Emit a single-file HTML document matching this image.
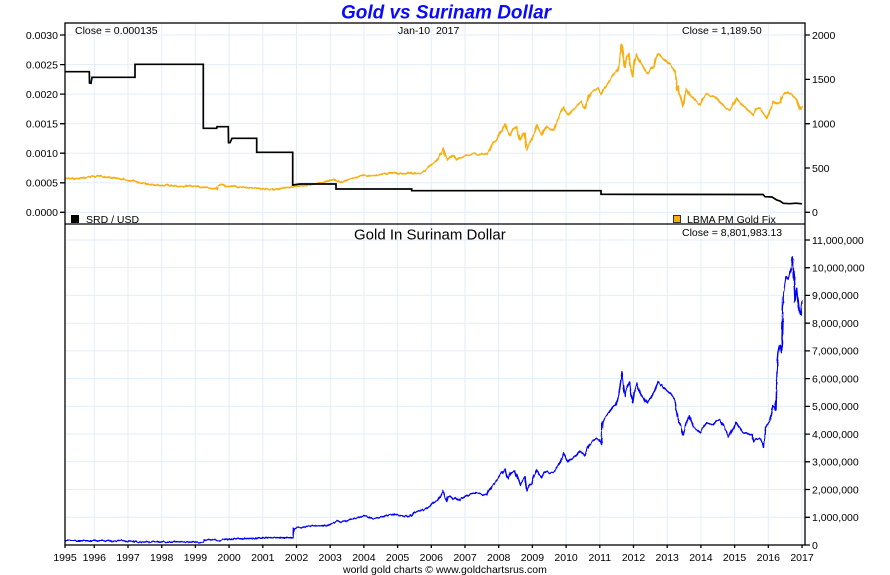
<!DOCTYPE html>
<html><head><meta charset="utf-8"><style>
html,body{margin:0;padding:0;background:#fff;}
svg{display:block;font-family:"Liberation Sans",Arial,sans-serif;}
</style></head><body>
<svg width="890" height="575" viewBox="0 0 890 575" xmlns="http://www.w3.org/2000/svg">
<defs>
<filter id="jit" filterUnits="userSpaceOnUse" x="0" y="0" width="890" height="575">
<feTurbulence type="fractalNoise" baseFrequency="0.35 0.08" numOctaves="2" seed="3" result="n"/>
<feDisplacementMap in="SourceGraphic" in2="n" scale="3" xChannelSelector="R" yChannelSelector="G"/>
</filter>
</defs>
<rect width="890" height="575" fill="#fff"/>
<!-- grid -->
<g stroke="#e2eef8" stroke-width="1">
<path d="M94.3 23V545M128 23V545M161.7 23V545M195.4 23V545M229.1 23V545M262.8 23V545M296.5 23V545M330.2 23V545M363.9 23V545M397.6 23V545M431.3 23V545M465 23V545M498.7 23V545M532.4 23V545M566.1 23V545M599.8 23V545M633.5 23V545M667.2 23V545M700.9 23V545M734.6 23V545M768.3 23V545M802 23V545"/>
<path d="M65 35H805M65 64.6H805M65 94.1H805M65 123.7H805M65 153.2H805M65 182.8H805M65 212.3H805"/>
<path d="M65 517.3H805M65 489.5H805M65 461.8H805M65 434.1H805M65 406.4H805M65 378.6H805M65 350.9H805M65 323.2H805M65 295.4H805M65 267.7H805M65 240H805"/>
</g>
<!-- gold USD -->
<polyline filter="url(#jit)" fill="none" stroke="#f8ae10" stroke-width="1.7" stroke-linejoin="round" points="65,178.5 70,178 75,178.8 80,178 85,177.5 90,177 95,176.5 98,175.7 102,176.5 108,177 115,178 122,179 127,180 133,181 140,182.5 147,184 153,185 160,185.7 167,185 173,186 180,186.5 187,186 193,186 200,187 206,187.5 212,188.5 216.7,189 218,186 221.7,184 225,186 229,186.5 233,186 238,187 245,187.5 252,188 260,188.3 266,189 273,189.3 280,188.5 287,187.5 293,186.7 300,186 306,185.5 313,184 318,183 323,182.5 328,181 333,179.3 337,181 341.7,182.7 346,180.5 350,179.3 355,178 360,176 363,175 368,176 373,176 378,175 383,174 388,173.5 393,172.7 398,173.5 403,174 408,173 414,173.5 420,173.3 424,171 428,167.5 433,163.3 437,160.5 440,155 443.3,148.3 445,154 447,160 450,157 453,155 456,160 459,158 463,156.7 468,155 473,153.3 478,154.5 482,153.5 487,154.3 490,150 493,143.3 497,139 500,133.3 503,129 505,124 507,130 510,135 513,129 516.7,126.7 518,133 520,140 522,136 525,133.3 526.7,150 529,145 531.7,140 534,133 536.7,125 539,130 541.7,135 544,130 546.7,126.7 550,129 553.3,130 556,124 558.3,118.3 561,112 563.3,106.7 566,112 568.3,115 571,112 573.3,110 577,106 581.7,101.7 583,106 585,108.3 588,98 591.7,91.7 595,90 598.3,88.3 600,93 601.7,95 604,90 606.7,85 610,80 613.3,75 616,72 618.3,68.3 620,58 621.7,45 623,55 625,66.7 626.5,58 628.3,53.3 630,65 632.7,76.7 634,62 636.7,55 639,60 641.7,65 645,70 648.3,73.3 651,69 653.3,66.7 656,58 658.3,53.3 662,58 666.7,61.7 670,64 673,68 675,71.7 676.7,90 678,86 680,96 683.3,106.7 685,95 686.7,88.3 689,94 691.7,96.7 695,100 698,103 700,105 703,98 706.7,93.3 710,96 713,95 716.7,98.3 720,102 723.3,105 726,108 730,110 733,104 736.7,98.3 740,103 743.3,106.7 746,108 750,112 753.3,115 756,110 760,108.3 763,113 766.7,118.3 769,113 771,106 773.3,101.7 776,104 780,101.7 783,96 786.7,91.7 789,94 791.7,93.3 794,96 796.7,100 798,105 800,110 801,108 802.5,107"/>
<!-- SRD/USD -->
<polyline fill="none" stroke="#000" stroke-width="1.7" points="65,71.7 89.3,71.7 89.5,83 91,83.3 92,77.3 135,77.3 135,64.3 203.3,64.3 203.3,128.3 216.7,128.3 217,126.7 228.3,126.7 228.5,142.7 230,142.7 232,138.3 256.7,138.3 256.7,152.3 292.7,152.3 292.7,185 300,184 336,184 336,189 411.7,189 411.7,190.7 601,190.7 601,194.3 763,194.5 765,196.7 772,197 776.7,200 780,201 783.3,203.3 790,203.7 796,203.2 802,203.8"/>
<!-- Gold in SRD -->
<polyline filter="url(#jit)" fill="none" stroke="#0000ff" stroke-width="1.5" stroke-linejoin="round" points="65,540.7 100,540.8 133,541 136.7,542 170,542.2 203,542 204,539.7 215,540 220,540.3 224,539.5 226.7,539 240,538.8 256.7,538.3 258.3,537.7 275,537.6 293,537.7 293.5,528.3 300,527.5 310,526 320,525.8 328.3,525.3 333,523 336.7,521 340,522 343.3,521.7 347,521 350,520 356,518.5 363.3,516 367,517 371,518.5 376.7,518.3 382,517 388,515.5 395,514 400,515.5 405,516 410,516 413.3,512.7 416.7,511.7 420,511 424,509.5 426.7,508.3 430,506 433.3,502.7 437,501 440,497 443.3,490.7 445,497 446.7,501.7 448,497 450,496 453,499 455,497.5 458.3,500.7 462,498 466.7,496 470,494 475,492.7 480,494 486.7,495 490,490 493.3,484 496,481 500,475 503,472 505,469.3 506.5,475 508.3,478.3 511,473 515,470.7 517,477 520,485 522,480 525,476.7 526.7,490.7 529,486 531.7,483.3 534,476 536.7,470 539,474 541.7,477.3 544,473 546.7,471.7 550,473 553.3,472.3 556,469 558.3,466 561,460 563.3,453.3 566,458 568.3,461.7 571,459 573.3,458.3 577,454 580,450.7 583,453 585,456 588,447 591.7,441.7 594,440 596.7,438.3 599,440 601,444 602.3,422.7 604,419 606.7,415 610,411 613.3,406.7 616.7,405 619.3,391.7 622,371.7 623.5,385 625,396.7 627,388 629.3,381.7 631,393 632.7,403.3 634.5,390 636.7,383.3 639,390 641.7,395 644,398 646.7,403.3 649,400 651.7,396.7 655,390 658.3,381.7 662,386 666.7,390 670,393 673,397 675,400 677.3,416.7 680,424 683.3,435 686,423 688.7,416 691,422 693.3,426.7 697,430 700,433.3 703,428 706.7,422.7 710,424 713.3,425 716,421 720,420 724,427 728.3,437.3 732,430 736,422.7 740,428 743.3,432.7 748,434 751.7,435 753.3,441.7 756,439 760,438.3 762,442 764,447.3 765,428.3 767,425 770,421.7 772,412 773.3,405 775,407 776,410 777.3,363.3 778.5,352 780,345 781.7,353.3 782.5,320 783.3,293.3 785,282 786,276.7 788.3,280 790,273.3 791.5,265 792.7,256.7 794,280 795,301.7 796.7,288.3 798.3,306.7 800.7,315 801.5,305 802.3,300"/>
<!-- frames -->
<g stroke="#000" stroke-width="1.3" fill="none">
<rect x="65" y="23" width="740" height="522"/>
<path d="M65 224H805"/>
<path d="M60 35H65M60 64.6H65M60 94.1H65M60 123.7H65M60 153.2H65M60 182.8H65M60 212.3H65"/>
<path d="M805 35H810M805 79.4H810M805 123.7H810M805 168H810M805 212.3H810"/>
<path d="M805 517.3H810M805 489.5H810M805 461.8H810M805 434.1H810M805 406.4H810M805 378.6H810M805 350.9H810M805 323.2H810M805 295.4H810M805 267.7H810M805 240H810M805 545H810"/>
<path d="M65 545V548M94.3 545V548M128 545V548M161.7 545V548M195.4 545V548M229.1 545V548M262.8 545V548M296.5 545V548M330.2 545V548M363.9 545V548M397.6 545V548M431.3 545V548M465 545V548M498.7 545V548M532.4 545V548M566.1 545V548M599.8 545V548M633.5 545V548M667.2 545V548M700.9 545V548M734.6 545V548M768.3 545V548M802 545V548"/>
</g>
<!-- title -->
<text x="446" y="18.5" text-anchor="middle" font-size="19" font-weight="bold" font-style="italic" fill="#0a0aff">Gold vs Surinam Dollar</text>
<g font-size="10.5" fill="#000">
<text x="75" y="34">Close = 0.000135</text>
<text x="398" y="34" xml:space="preserve">Jan-10  2017</text>
<text x="682" y="34">Close = 1,189.50</text>
<text x="682" y="236">Close = 8,801,983.13</text>
<text x="86" y="223">SRD / USD</text>
<text x="687" y="223">LBMA PM Gold Fix</text>
<g text-anchor="end">
<text x="58" y="38.8">0.0030</text>
<text x="58" y="68.4">0.0025</text>
<text x="58" y="97.9">0.0020</text>
<text x="58" y="127.5">0.0015</text>
<text x="58" y="157">0.0010</text>
<text x="58" y="186.6">0.0005</text>
<text x="58" y="216.1">0.0000</text>
</g>
<text x="812" y="38.8">2000</text>
<text x="812" y="83.2">1500</text>
<text x="812" y="127.5">1000</text>
<text x="812" y="171.8">500</text>
<text x="812" y="216.1">0</text>
<text x="812" y="243.8">11,000,000</text>
<text x="812" y="271.5">10,000,000</text>
<text x="812" y="299.2">9,000,000</text>
<text x="812" y="327">8,000,000</text>
<text x="812" y="354.7">7,000,000</text>
<text x="812" y="382.4">6,000,000</text>
<text x="812" y="410.2">5,000,000</text>
<text x="812" y="437.9">4,000,000</text>
<text x="812" y="465.6">3,000,000</text>
<text x="812" y="493.3">2,000,000</text>
<text x="812" y="521.1">1,000,000</text>
<text x="812" y="548.8">0</text>
<g text-anchor="middle">
<text x="65" y="561">1995</text>
<text x="94.3" y="561">1996</text>
<text x="128" y="561">1997</text>
<text x="161.7" y="561">1998</text>
<text x="195.4" y="561">1999</text>
<text x="229.1" y="561">2000</text>
<text x="262.8" y="561">2001</text>
<text x="296.5" y="561">2002</text>
<text x="330.2" y="561">2003</text>
<text x="363.9" y="561">2004</text>
<text x="397.6" y="561">2005</text>
<text x="431.3" y="561">2006</text>
<text x="465" y="561">2007</text>
<text x="498.7" y="561">2008</text>
<text x="532.4" y="561">2009</text>
<text x="566.1" y="561">2010</text>
<text x="599.8" y="561">2011</text>
<text x="633.5" y="561">2012</text>
<text x="667.2" y="561">2013</text>
<text x="700.9" y="561">2014</text>
<text x="734.6" y="561">2015</text>
<text x="768.3" y="561">2016</text>
<text x="802" y="561">2017</text>
</g>
<text x="343" y="573">world gold charts © www.goldchartsrus.com</text>
</g>
<text x="354" y="239.5" font-size="15" fill="#000">Gold In Surinam Dollar</text>
<rect x="71.5" y="215.5" width="7" height="7" fill="#000" stroke="#000" stroke-width="1"/>
<rect x="673.5" y="215.5" width="7" height="7" fill="#f8ae10" stroke="#333" stroke-width="1"/>
</svg>
</body></html>
